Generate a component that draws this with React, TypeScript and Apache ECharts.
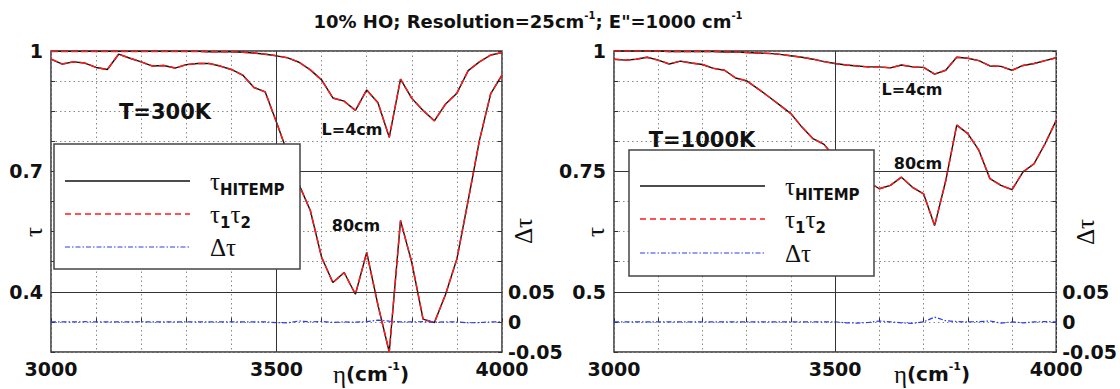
import React, { useEffect, useRef } from 'react';
import * as echarts from 'echarts';

// wavenumber samples (cm^-1), 25 cm^-1 resolution
const eta = [
  3000, 3025, 3050, 3075, 3100, 3125, 3150, 3175, 3200, 3225, 3250, 3275, 3300, 3325,
  3350, 3375, 3400, 3425, 3450, 3475, 3500, 3525, 3550, 3575, 3600, 3625, 3650, 3675,
  3700, 3725, 3750, 3775, 3800, 3825, 3850, 3875, 3900, 3925, 3950, 3975, 4000,
];

// T = 300K
const tauL4_300 = [
  0.999, 0.999, 0.999, 0.999, 0.999, 0.999, 0.999, 0.999, 0.999, 0.999, 0.999, 0.999, 0.999, 0.999,
  0.998, 0.998, 0.998, 0.997, 0.995, 0.992, 0.988, 0.983, 0.972, 0.953, 0.928, 0.883, 0.875, 0.852,
  0.903, 0.871, 0.785, 0.93, 0.882, 0.852, 0.826, 0.868, 0.895, 0.951, 0.973, 0.99, 0.996,
];
const tauL80_300 = [
  0.98, 0.9675, 0.973, 0.97, 0.959, 0.954, 0.992, 0.982, 0.973, 0.9625, 0.964, 0.9575, 0.966, 0.969,
  0.969, 0.9625, 0.954, 0.94, 0.909, 0.898, 0.8225, 0.744, 0.667, 0.6025, 0.486, 0.423, 0.448, 0.394,
  0.498, 0.367, 0.25, 0.5775, 0.473, 0.332, 0.323, 0.394, 0.482, 0.6275, 0.7775, 0.894, 0.94,
];
const dtau_300 = [
  0, 0, 0, 0.0003, 0, 0, 0, 0, 0.0003, 0, 0, 0, 0, 0,
  0, 0, 0, 0, 0, 0, -0.0012, -0.0015, 0.0015, 0, 0.0008, -0.0008, 0, -0.0005,
  0.0005, 0.003, 0.0012, 0, 0, 0.0005, -0.0005, 0, 0, -0.0015, -0.0012, 0, 0,
];

// T = 1000K
const tauL4_1000 = [
  1.0, 1.0, 1.0, 1.0, 1.0, 0.999, 0.999, 0.999, 0.999, 0.999, 0.998, 0.998, 0.997, 0.996,
  0.995, 0.993, 0.99, 0.987, 0.983, 0.978, 0.974, 0.971, 0.969, 0.967, 0.967, 0.965, 0.971, 0.967,
  0.966, 0.952, 0.96, 0.987, 0.985, 0.98, 0.969, 0.968, 0.96, 0.97, 0.974, 0.98, 0.986,
];
const tauL80_1000 = [
  0.983, 0.981, 0.983, 0.987, 0.981, 0.973, 0.979, 0.975, 0.972, 0.964, 0.96, 0.944, 0.938, 0.922,
  0.905, 0.8875, 0.87, 0.842, 0.818, 0.806, 0.778, 0.755, 0.74, 0.728, 0.714, 0.721, 0.738, 0.717,
  0.7035, 0.6375, 0.73, 0.846, 0.8285, 0.794, 0.735, 0.721, 0.712, 0.749, 0.766, 0.808, 0.856,
];
const dtau_1000 = [
  0, 0, 0, 0, 0, 0, 0, 0, 0, 0, 0, 0, 0, 0,
  0, 0, 0, 0, 0, 0, 0, -0.0015, -0.002, -0.001, 0.0015, 0, -0.0015, -0.0025,
  0, 0.008, 0.002, 0.0005, 0, 0.0005, 0.0015, -0.002, 0, -0.0015, 0, 0.0005, 0,
];

const xTickLabels = [3000, 3500, 4000];
const tauTicks300 = [0.4, 0.7, 1];
const tauTicks1000 = [0.5, 0.75, 1];
const dtauTicks = [-0.05, 0, 0.05];

const SANS = 'DejaVu Sans';
const SERIF = 'Liberation Serif';
const BLACK = '#111';
const RED = '#ff1a1a';
const BLUE = '#2a3cf0';
const GRIDC = '#333';

const pick = (ticks: number[]) => (v: number) => {
  for (const t of ticks) if (Math.abs(v - t) < 1e-7) return String(t);
  return '';
};

const labelStyle = {
  fontFamily: SANS,
  fontWeight: 'bold' as const,
  fontSize: 19,
  color: BLACK,
};

const pts = (arr: number[]) => eta.map((x, i) => [x, arr[i]]);

export default function App() {
  const ref = useRef<HTMLDivElement>(null);

  useEffect(() => {
    if (!ref.current) return;
    const chart = echarts.init(ref.current, undefined, { renderer: 'svg' });

    const grids = [
      { left: 51, top: 51, width: 451, height: 301 },
      { left: 614, top: 51, width: 449, height: 301 },
    ];
    const panels = [
      { tmin: 0.25, tint: 0.025, ticks: tauTicks300, l4: tauL4_300, l80: tauL80_300, d: dtau_300 },
      { tmin: 0.375, tint: 0.0625, ticks: tauTicks1000, l4: tauL4_1000, l80: tauL80_1000, d: dtau_1000 },
    ];

    const xAxis: any[] = [];
    const yAxis: any[] = [];
    const series: any[] = [];

    panels.forEach((p, i) => {
      xAxis.push({
        type: 'value', gridIndex: i, min: 3000, max: 4000, interval: 100,
        axisLine: { show: false },
        axisTick: { show: true, inside: true, length: 4, lineStyle: { color: GRIDC } },
        splitLine: { show: true, lineStyle: { color: '#888', type: [1.5, 3], width: 1 } },
        axisLabel: { ...labelStyle, margin: 7, formatter: pick(xTickLabels) },
      });
      // tau axis (left)
      yAxis.push({
        type: 'value', gridIndex: i, position: 'left', min: p.tmin, max: 1, interval: p.tint,
        axisLine: { show: false }, axisTick: { show: false }, splitLine: { show: false },
        axisLabel: { ...labelStyle, margin: 8, formatter: pick(p.ticks) },
      });
      // delta tau axis (right)
      yAxis.push({
        type: 'value', gridIndex: i, position: 'right', min: -0.05, max: 0.45, interval: 0.05,
        axisLine: { show: false },
        axisTick: { show: true, inside: true, length: 4, lineStyle: { color: GRIDC } },
        splitLine: { show: true, lineStyle: { color: '#888', type: [1.5, 3], width: 1 } },
        axisLabel: { ...labelStyle, margin: 6, formatter: pick(dtauTicks) },
      });
      // tick marks on left edge
      yAxis.push({
        type: 'value', gridIndex: i, position: 'left', min: -0.05, max: 0.45, interval: 0.05,
        axisLine: { show: false },
        axisTick: { show: true, inside: true, length: 4, lineStyle: { color: GRIDC } },
        splitLine: { show: false },
        axisLabel: { show: false },
      });

      const tauY = i * 3;
      const dY = i * 3 + 1;
      const common = { type: 'line', xAxisIndex: i, showSymbol: false, symbol: 'none', clip: true };
      series.push({
        ...common, name: 'tauHITEMP_L4_' + i, yAxisIndex: tauY, data: pts(p.l4),
        lineStyle: { color: BLACK, width: 1.4 }, z: 3,
      });
      series.push({
        ...common, name: 'tauHITEMP_L80_' + i, yAxisIndex: tauY, data: pts(p.l80),
        lineStyle: { color: BLACK, width: 1.4 }, z: 3,
      });
      series.push({
        ...common, name: 't1t2_L4_' + i, yAxisIndex: tauY, data: pts(p.l4),
        lineStyle: { color: RED, width: 1.5, type: [7, 3] }, z: 4,
      });
      series.push({
        ...common, name: 't1t2_L80_' + i, yAxisIndex: tauY, data: pts(p.l80),
        lineStyle: { color: RED, width: 1.5, type: [7, 3] }, z: 4,
      });
      series.push({
        ...common, name: 'dtau_' + i, yAxisIndex: dY, data: pts(p.d),
        lineStyle: { color: BLUE, width: 1.2, type: [5, 2, 1.5, 2] }, z: 4,
        markLine: {
          silent: true, symbol: 'none', label: { show: false }, animation: false,
          lineStyle: { color: GRIDC, width: 1, type: 'solid' },
          data: [{ yAxis: 0.05 }, { yAxis: 0.25 }, { xAxis: 3500 }],
        },
      });
    });

    const txt = (x: number, y: number, text: string, size: number, extra: any = {}) => ({
      type: 'text', x, y, z: 50,
      style: {
        text, fontFamily: SANS, fontWeight: 'bold', fontSize: size, fill: BLACK,
        align: 'center', verticalAlign: 'middle', ...extra,
      },
    });

    const richLegend = {
      t: { fontFamily: SERIF, fontSize: 25, lineHeight: 32, fill: BLACK, color: BLACK },
      sub: { fontFamily: SANS, fontWeight: 'bold', fontSize: 15, lineHeight: 15, verticalAlign: 'bottom', fill: BLACK, color: BLACK },
    };

    const legend = (bx: number, by: number, bw: number, bh: number, lx1: number, lx2: number, tx: number, rows: number[]) => ({
      type: 'group', z: 100,
      children: [
        { type: 'rect', z: 100, shape: { x: bx, y: by, width: bw, height: bh }, style: { fill: '#fff', stroke: '#444', lineWidth: 1.5 } },
        { type: 'line', z: 101, shape: { x1: lx1, y1: rows[0], x2: lx2, y2: rows[0] }, style: { stroke: BLACK, lineWidth: 1.3 } },
        { type: 'line', z: 101, shape: { x1: lx1, y1: rows[1], x2: lx2, y2: rows[1] }, style: { stroke: RED, lineWidth: 1.3, lineDash: [6, 4] } },
        { type: 'line', z: 101, shape: { x1: lx1, y1: rows[2], x2: lx2, y2: rows[2] }, style: { stroke: BLUE, lineWidth: 1.2, lineDash: [5, 2, 1.5, 2] } },
        { type: 'text', z: 101, x: tx, y: rows[0], style: { text: '{t|τ}{sub|HITEMP}', rich: richLegend, align: 'left', verticalAlign: 'middle' } },
        { type: 'text', z: 101, x: tx, y: rows[1], style: { text: '{t|τ}{sub|1}{t|τ}{sub|2}', rich: richLegend, align: 'left', verticalAlign: 'middle' } },
        { type: 'text', z: 101, x: tx, y: rows[2], style: { text: '{t|Δτ}', rich: richLegend, align: 'left', verticalAlign: 'middle' } },
      ],
    });

    const richTitle = {
      b: { fontFamily: SANS, fontWeight: 'bold', fontSize: 18, lineHeight: 22, fill: BLACK, color: BLACK },
      s: { fontFamily: SANS, fontWeight: 'bold', fontSize: 10, lineHeight: 10, verticalAlign: 'top', fill: BLACK, color: BLACK },
    };
    const richX = {
      e: { fontFamily: SERIF, fontSize: 25, lineHeight: 26, fill: BLACK, color: BLACK },
      b: { fontFamily: SANS, fontWeight: 'bold', fontSize: 20, lineHeight: 26, fill: BLACK, color: BLACK },
      s: { fontFamily: SANS, fontWeight: 'bold', fontSize: 11, lineHeight: 11, verticalAlign: 'top', fill: BLACK, color: BLACK },
    };

    const rotName = (x: number, y: number, text: string) => ({
      type: 'text', x, y, rotation: Math.PI / 2, z: 50,
      style: { text, fontFamily: SERIF, fontSize: 25, fill: BLACK, align: 'center', verticalAlign: 'middle' },
    });

    const graphic: any[] = [
      {
        type: 'text', x: 528, y: 21, z: 50,
        style: { text: '{b|10% HO; Resolution=25cm}{s|-1}{b|; E"=1000 cm}{s|-1}', rich: richTitle, align: 'center', verticalAlign: 'middle' },
      },
      txt(165, 112, 'T=300K', 21),
      txt(352, 129, 'L=4cm', 16),
      txt(356, 225, '80cm', 16),
      txt(702, 140, 'T=1000K', 21),
      txt(912, 89, 'L=4cm', 16),
      txt(918, 163, '80cm', 16),
      legend(54, 144, 246, 125, 65, 190, 210, [181, 214, 247]),
      legend(629, 150, 245, 126, 640, 765, 785, [186, 219, 253]),
      { type: 'text', x: 371, y: 374, z: 50, style: { text: '{e|η}{b|(cm}{s|-1}{b|)}', rich: richX, align: 'center', verticalAlign: 'middle' } },
      { type: 'text', x: 932, y: 374, z: 50, style: { text: '{e|η}{b|(cm}{s|-1}{b|)}', rich: richX, align: 'center', verticalAlign: 'middle' } },
      rotName(33, 232, 'τ'),
      rotName(595, 232, 'τ'),
      rotName(523, 231, 'Δτ'),
      rotName(1085, 232, 'Δτ'),
    ];

    chart.setOption({
      animation: false,
      backgroundColor: '#fff',
      grid: grids.map((g) => ({ ...g, show: true, borderColor: GRIDC, borderWidth: 1.5, backgroundColor: 'transparent', containLabel: false })),
      xAxis,
      yAxis,
      series,
      graphic,
    });

    return () => chart.dispose();
  }, []);

  return <div ref={ref} style={{ position: 'fixed', left: 0, top: 0, width: 1120, height: 389 }} />;
}
